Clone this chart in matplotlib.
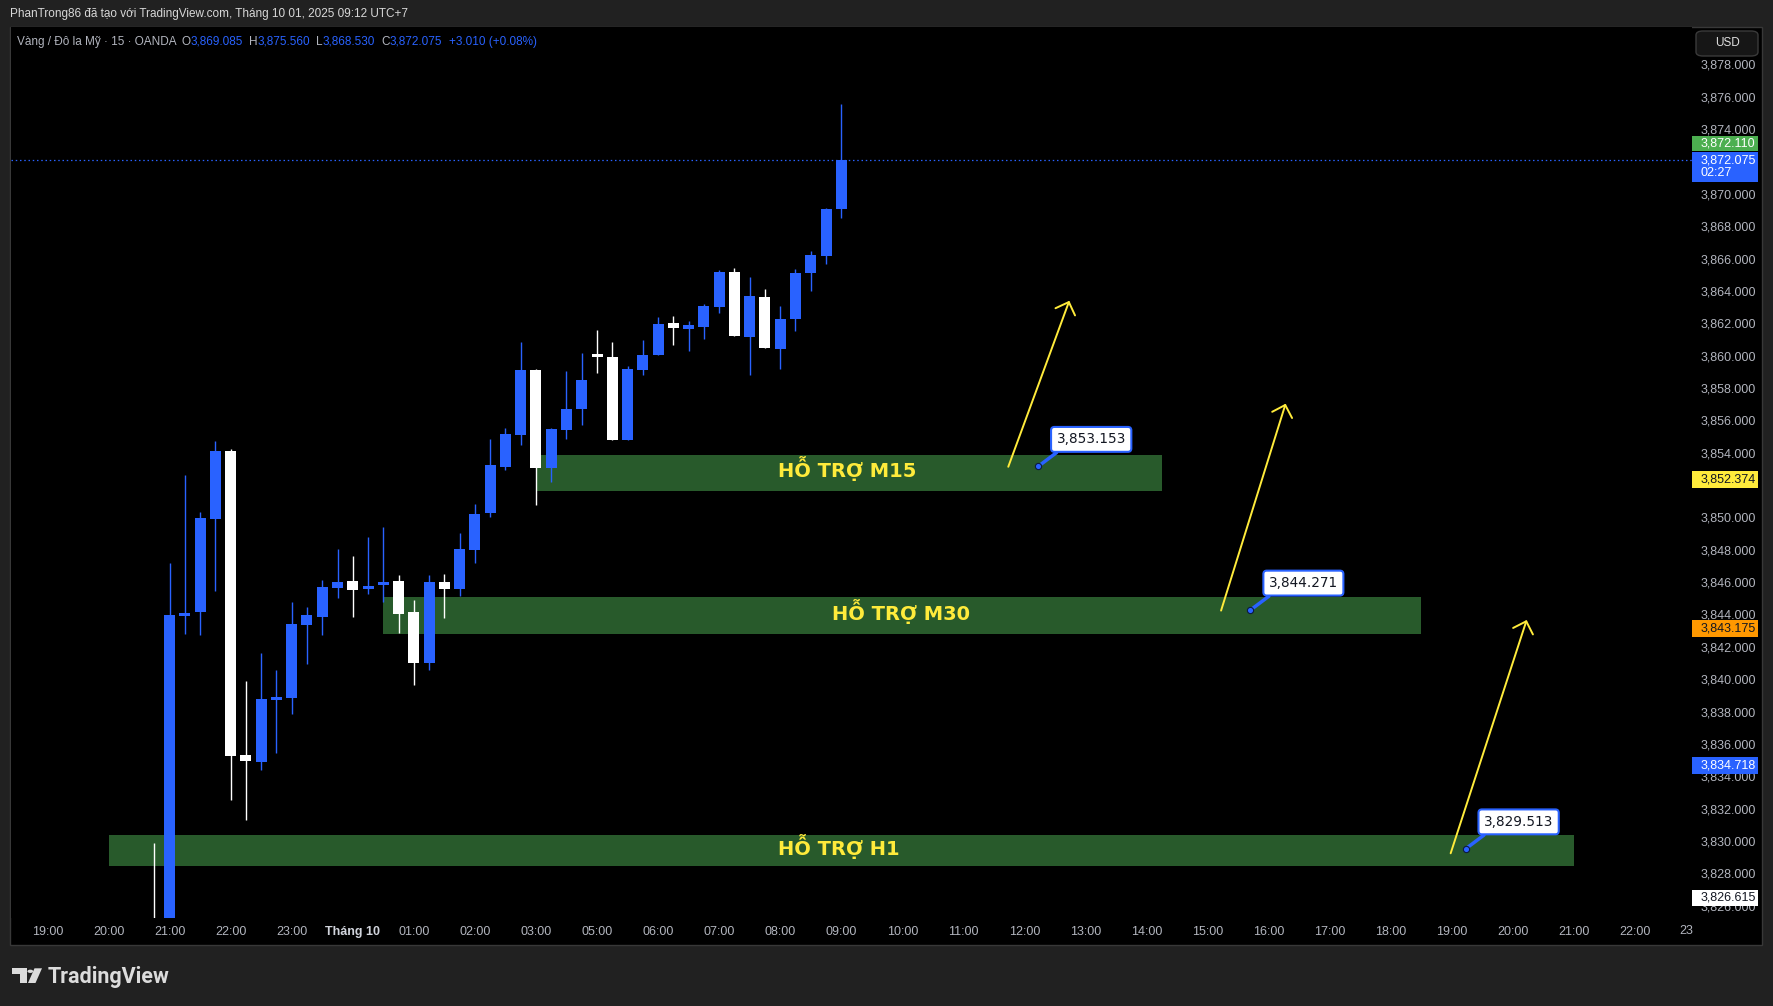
import numpy as np
import matplotlib
matplotlib.use("Agg")
import matplotlib.pyplot as plt
from matplotlib.patches import Rectangle, Polygon, Circle, FancyBboxPatch, FancyArrowPatch
from matplotlib.transforms import blended_transform_factory

plt.rcParams['font.family'] = ['Liberation Sans', 'DejaVu Sans']

# ---------------- DATA ----------------
# 15 minute candles, XAUUSD (OANDA), 30/09 20:45 -> 01/10 09:00
times = ['20:45', '21:00', '21:15', '21:30', '21:45', '22:00', '22:15', '22:30', '22:45',
         '23:00', '23:15', '23:30', '23:45', '00:00', '00:15', '00:30', '00:45',
         '01:00', '01:15', '01:30', '01:45', '02:00', '02:15', '02:30', '02:45',
         '03:00', '03:15', '03:30', '03:45', '05:00', '05:15', '05:30', '05:45',
         '06:00', '06:15', '06:30', '06:45', '07:00', '07:15', '07:30', '07:45',
         '08:00', '08:15', '08:30', '08:45', '09:00']
opens = [3824.60, 3823.80, 3843.92, 3844.15, 3849.90, 3854.10, 3835.31, 3834.88, 3838.71,
         3838.84, 3843.35, 3843.84, 3845.63, 3846.07, 3845.57, 3845.82, 3846.07,
         3844.15, 3841.00, 3846.01, 3845.57, 3847.98, 3850.27, 3853.11, 3855.09,
         3859.11, 3853.05, 3855.40, 3856.70, 3860.10, 3859.91, 3854.78, 3859.11,
         3860.04, 3862.01, 3861.64, 3861.77, 3863.00, 3865.16, 3861.15, 3863.62,
         3860.41, 3862.26, 3865.10, 3866.18, 3869.085]
highs = [3829.90, 3847.16, 3852.62, 3850.33, 3854.72, 3854.23, 3839.89, 3841.62, 3840.57,
         3844.77, 3844.46, 3846.13, 3848.05, 3847.61, 3848.79, 3849.41, 3846.44,
         3844.89, 3846.44, 3846.50, 3849.03, 3850.83, 3854.84, 3855.52, 3860.84,
         3859.17, 3855.50, 3859.05, 3860.16, 3861.58, 3860.84, 3859.36, 3860.96,
         3862.38, 3862.45, 3862.14, 3863.19, 3865.29, 3865.41, 3864.86, 3864.11,
         3863.06, 3865.35, 3866.46, 3869.12, 3875.560]
lows = [3822.90, 3823.20, 3842.79, 3842.73, 3845.45, 3832.53, 3831.30, 3834.39, 3835.44,
        3837.85, 3840.94, 3842.73, 3845.02, 3843.84, 3845.26, 3844.77, 3842.85,
        3839.64, 3840.57, 3843.78, 3845.14, 3847.18, 3850.00, 3852.90, 3854.47,
        3850.76, 3852.19, 3854.84, 3855.71, 3858.92, 3854.78, 3854.78, 3858.80,
        3860.04, 3860.65, 3860.28, 3861.03, 3862.63, 3861.21, 3858.80, 3860.47,
        3859.17, 3861.52, 3863.99, 3865.68, 3868.530]
closes = [3823.90, 3843.97, 3844.09, 3849.96, 3854.10, 3835.25, 3834.94, 3838.77, 3838.90,
          3843.41, 3843.97, 3845.70, 3846.01, 3845.51, 3845.76, 3846.01, 3844.03,
          3841.00, 3846.01, 3845.57, 3848.05, 3850.21, 3853.24, 3855.15, 3859.11,
          3853.05, 3855.46, 3856.70, 3858.49, 3859.91, 3854.78, 3859.17, 3860.04,
          3861.95, 3861.70, 3861.89, 3863.06, 3865.16, 3861.21, 3863.68, 3860.47,
          3862.26, 3865.10, 3866.22, 3869.065, 3872.075]

# hours shown on the time axis (gold has its daily break 04:00-05:00)
hours_axis = [19, 20, 21, 22, 23, 0, 1, 2, 3] + list(range(5, 23))

# price scale ticks (3,852 is hidden behind the yellow tag)
price_ticks = [p for p in range(3826, 3879, 2) if p != 3852]

# support zones
zone_names = ['HỖ TRỢ M15', 'HỖ TRỢ M30', 'HỖ TRỢ H1']
zone_x0 = [32.0, 22.0, 4.0]
zone_x1 = [73.0, 90.0, 100.0]
zone_lo = [3851.65, 3842.79, 3828.45]
zone_hi = [3853.85, 3845.08, 3830.35]
zone_text_x = [52.4, 55.9, 51.85]
zone_text_y = [3852.48, 3843.65, 3829.14]

# price callouts
callout_x = [64.9, 78.8, 92.9]
callout_price = [3853.153, 3844.271, 3829.513]

# yellow arrows (start x, start price, end x, end price)
arrow_x0 = [62.94, 76.88, 91.92]
arrow_p0 = [3853.13, 3844.24, 3829.24]
arrow_x1 = [66.94, 81.11, 96.90]
arrow_p1 = [3863.39, 3857.03, 3843.66]

# price scale tags
tag_text = ['3,872.110', '3,872.075\n02:27', '3,852.374', '3,843.175', '3,834.718', '3,826.615']
tag_lo = [3872.65, 3870.71, 3851.83, 3842.63, 3834.16, 3826.00]
tag_hi = [3873.60, 3872.60, 3852.87, 3843.66, 3835.19, 3826.96]
tag_bg = ['#4caf50', '#2962ff', '#ffeb3b', '#ff9800', '#2962ff', '#ffffff']
tag_fg = ['white', 'white', '#131722', '#131722', 'white', '#131722']

BLUE = '#2962ff'
W, H = 1773, 1006


def bar_x(t):
    h, m = map(int, t.split(':'))
    return 4 * hours_axis.index(h) + m // 15


# ---------------- FIGURE ----------------
fig = plt.figure(figsize=(W / 100, H / 100), dpi=100, facecolor='#212121')
fig.add_artist(Rectangle((10 / W, 1 - 945 / H), 1752 / W, 918 / H, transform=fig.transFigure,
                         fc='black', ec='#383838', lw=1, zorder=-1))

ax = fig.add_axes([11 / W, 1 - 918 / H, (1692 - 11) / W, (918 - 27) / H])
ax.set_facecolor('black')
for s in ax.spines.values():
    s.set_visible(False)

x = np.array([bar_x(t) for t in times])
o = np.array(opens)
c = np.array(closes)
up = c >= o
cols = np.where(up, BLUE, 'white')

# candles
ax.vlines(x, lows, highs, colors=cols, lw=1.0, zorder=3)
body_lo = np.minimum(o, c)
body_h = np.maximum(np.abs(c - o), 0.07)
ax.bar(x, body_h, bottom=body_lo, width=0.72, color=cols, zorder=4, linewidth=0)

# last price dotted line
ax.axhline(closes[-1], color=BLUE, lw=0.9, ls=(0, (1.2, 2.2)), zorder=2)

# zones
for name, x0, x1, lo, hi, tx, ty in zip(zone_names, zone_x0, zone_x1, zone_lo, zone_hi,
                                        zone_text_x, zone_text_y):
    ax.add_patch(Rectangle((x0, lo), x1 - x0, hi - lo, fc='#285a2b', ec='none', zorder=1))
    ax.text(tx, ty, name, color='#ffeb3b', fontsize=14, fontweight='bold',
            family='DejaVu Sans', ha='center', va='baseline', zorder=2)

# arrows
for xa, pa, xb, pb in zip(arrow_x0, arrow_p0, arrow_x1, arrow_p1):
    ax.add_patch(FancyArrowPatch((xa, pa), (xb, pb), arrowstyle='->,head_length=0.75,head_width=0.75',
                                 mutation_scale=10, color='#ffeb3b', lw=1.4,
                                 shrinkA=0, shrinkB=0, zorder=6))

# callouts
for cx, cp in zip(callout_x, callout_price):
    ax.annotate(f'{cp:,.3f}', xy=(cx, cp), xytext=(53, 27), textcoords='offset pixels',
                ha='center', va='center', fontsize=9.8, family='DejaVu Sans', color='#131722',
                bbox=dict(boxstyle='round,pad=0.4,rounding_size=0.25', fc='white', ec=BLUE, lw=1.5),
                arrowprops=dict(arrowstyle='-', color=BLUE, lw=2.5, shrinkA=0, shrinkB=0,
                                relpos=(0.12, 0.0)), zorder=7)
    ax.plot(cx, cp, 'o', ms=4.5, mfc=BLUE, mec='#0c1a40', mew=0.8, zorder=8)

# axes
ax.set_xlim(-2.39, 107.73)
ax.set_ylim(3825.24, 3880.31)

ax.set_xticks([4 * k for k in range(len(hours_axis))])
xlabels = [f'{h:02d}:00' for h in hours_axis]
xlabels[5] = 'Tháng 10'
ax.set_xticklabels(xlabels)
ax.tick_params(axis='x', length=0, pad=6, labelsize=9, labelcolor='#b2b5be')
ax.get_xticklabels()[5].set_fontweight('bold')
ax.get_xticklabels()[5].set_color('#d1d4dc')
# last hour label is cut by the price scale
ax.text(106.9, -(931.5 - 918) / 891, '23', transform=blended_transform_factory(ax.transData, ax.transAxes),
        color='#b2b5be', fontsize=9, ha='left', va='center')

ax.yaxis.tick_right()
ax.set_yticks(price_ticks)
ax.yaxis.set_major_formatter(plt.FuncFormatter(lambda v, p: f'{v:,.3f}'))
ax.tick_params(axis='y', length=0, pad=6.5, labelsize=9, labelcolor='#b2b5be')

# price scale tags
trans = blended_transform_factory(fig.transFigure, ax.transData)
for txt, lo, hi, bg, fg in zip(tag_text, tag_lo, tag_hi, tag_bg, tag_fg):
    ax.add_artist(Rectangle((1692 / W, lo), 65.7 / W, hi - lo, transform=trans, fc=bg, ec='none',
                            clip_on=False, zorder=9))
    ax.text(1700.5 / W, (lo + hi) / 2, txt, transform=trans, color=fg, fontsize=9,
            ha='left', va='center', linespacing=1.05, clip_on=False, zorder=10)

# USD button
fig.add_artist(FancyBboxPatch((1696 / W, 1 - 56 / H), 62 / W, 25 / H, transform=fig.transFigure,
                              boxstyle='round,pad=0,rounding_size=0.004', fc='#161616', ec='#3a3a3a',
                              lw=1, zorder=5))
fig.text(1727 / W, 1 - 43.5 / H, 'USD', color='#e0e0e0', fontsize=8.5, ha='center', va='center',
         zorder=6)

# header line
fig.text(10 / W, 1 - 14 / H, 'PhanTrong86 đã tạo với TradingView.com, Tháng 10 01, 2025 09:12 UTC+7',
         color='#d8d8d8', fontsize=8.5, ha='left', va='center')

# legend line
chg = closes[-1] - closes[-2]
pieces = [('Vàng / Đô la Mỹ · 15 · OANDA', '#b2b5be', 0),
          ('O', '#b2b5be', 5), (f'{opens[-1]:,.3f}', BLUE, 0),
          ('H', '#b2b5be', 6), (f'{highs[-1]:,.3f}', BLUE, 0),
          ('L', '#b2b5be', 6), (f'{lows[-1]:,.3f}', BLUE, 0),
          ('C', '#b2b5be', 6), (f'{closes[-1]:,.3f}', BLUE, 0),
          (f'+{chg:.3f} (+{chg / closes[-2] * 100:.2f}%)', BLUE, 7)]
prev = fig.text(17 / W, 1 - 42 / H, pieces[0][0], color=pieces[0][1], fontsize=8.5,
                ha='left', va='center')
for txt, col, gap in pieces[1:]:
    prev = ax.annotate(txt, xy=(1, 0.5), xycoords=prev, xytext=(gap, 0), textcoords='offset pixels',
                       color=col, fontsize=8.5, ha='left', va='center')

# TradingView logo
fpx = lambda px, py: (px / W, 1 - py / H)
logo_col = '#dcdcdc'
fig.add_artist(Polygon([fpx(11.7, 968.3), fpx(26.7, 968.3), fpx(26.7, 983), fpx(19.5, 983),
                        fpx(19.5, 974.3), fpx(11.7, 974.3)], closed=True, transform=fig.transFigure,
                       fc=logo_col, ec='none'))
fig.add_artist(Circle(fpx(30.3, 971.3), 2.9 / W, transform=fig.transFigure, fc=logo_col, ec='none'))
fig.add_artist(Polygon([fpx(34.5, 968.3), fpx(42.0, 968.3), fpx(35.5, 983), fpx(28.0, 983)],
                       closed=True, transform=fig.transFigure, fc=logo_col, ec='none'))
fig.text(48 / W, 1 - 983 / H, 'TradingView', color=logo_col, fontsize=15.5, fontweight='bold',
         family='Roboto', ha='left', va='baseline')

fig.savefig('out.png', dpi=100, facecolor=fig.get_facecolor())
